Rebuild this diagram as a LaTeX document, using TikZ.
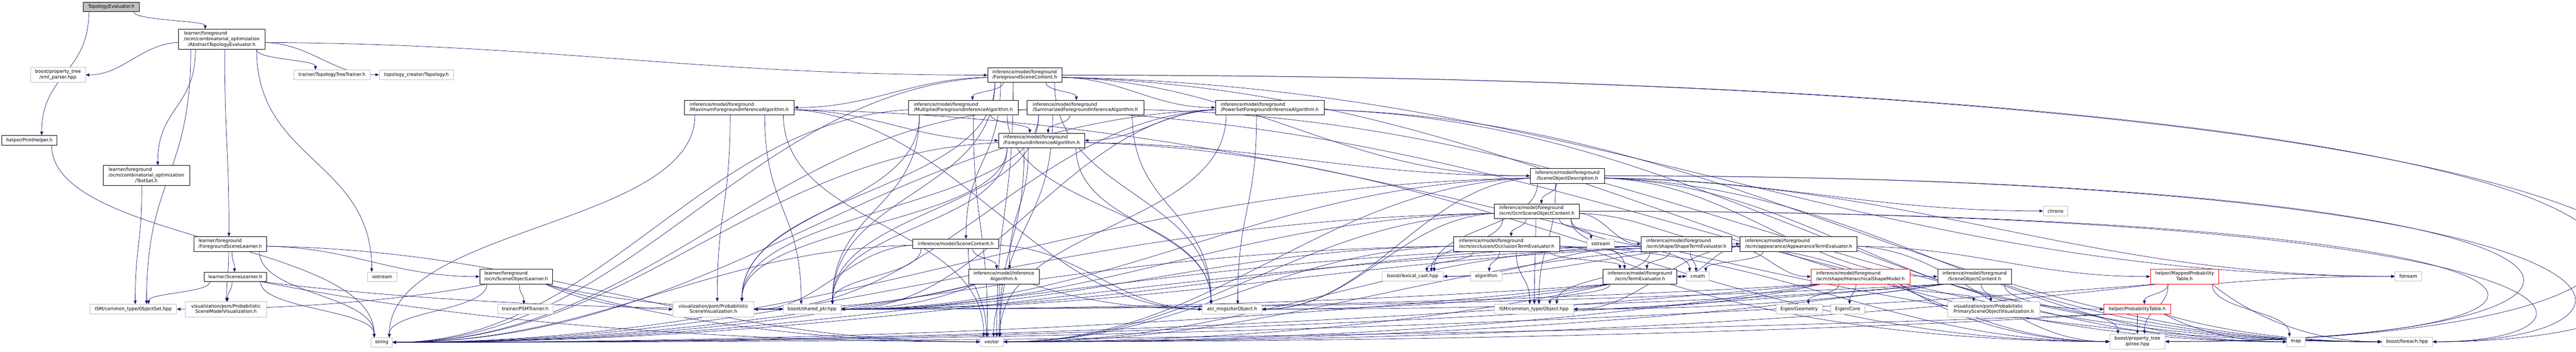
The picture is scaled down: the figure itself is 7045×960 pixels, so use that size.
\documentclass[tikz,border=0pt]{standalone}
\usepackage{fontspec}
\setmainfont{DejaVu Sans}
\usetikzlibrary{arrows.meta}
\pgfdeclarelayer{bg}
\pgfsetlayers{bg,main}
\definecolor{edgec}{HTML}{191970}
\definecolor{extc}{HTML}{BFBFBF}
\newcommand\LL[2]{\begin{tabular}{@{}l@{}}#1\\\multicolumn{1}{@{}c@{}}{#2}\end{tabular}}
\newcommand\LLL[3]{\begin{tabular}{@{}l@{}}#1\\#2\\\multicolumn{1}{@{}c@{}}{#3}\end{tabular}}
\newdimen\eXs \newdimen\eYs \newdimen\eXt \newdimen\eYt
\newdimen\eWs \newdimen\eHs \newdimen\eWt \newdimen\eHt
\newcommand\GETG[2]{%
 \pgfextractx{\eXs}{\pgfpointanchor{#1}{center}}%
 \pgfextracty{\eYs}{\pgfpointanchor{#1}{center}}%
 \pgfextractx{\eXt}{\pgfpointanchor{#2}{center}}%
 \pgfextracty{\eYt}{\pgfpointanchor{#2}{center}}%
 \pgfextractx{\eWs}{\pgfpointanchor{#1}{east}}%
 \pgfextracty{\eHs}{\pgfpointanchor{#1}{north}}%
 \pgfextractx{\eWt}{\pgfpointanchor{#2}{east}}%
 \pgfextracty{\eHt}{\pgfpointanchor{#2}{north}}%
 \pgfmathsetmacro\ews{\eWs-\eXs}%
 \pgfmathsetmacro\ehs{\eHs-\eYs}%
 \pgfmathsetmacro\ewt{\eWt-\eXt}%
 \pgfmathsetmacro\eht{\eHt-\eYt}%
 \pgfmathsetmacro\edx{\eXt-\eXs}%
 \pgfmathsetmacro\edy{\eYs-\eYt}}
\newcommand\EDG[2]{%
 \GETG{#1}{#2}%
 \pgfmathtruncatemacro\evert{abs(\edx)<1.5*\edy+250}%
 \ifnum\evert=1
  \pgfmathsetmacro\esx{\eXs+max(-0.8*\ews,min(0.8*\ews,0.35*\edx))}%
  \pgfmathsetmacro\esy{\eYs-\ehs}%
  \pgfmathsetmacro\eex{\eXt+max(-0.7*\ewt,min(0.7*\ewt,-0.15*\edx))}%
  \pgfmathsetmacro\eey{\eYt+\eht}%
  \pgfmathsetmacro\eay{\esy-0.5*(\esy-\eey)}%
  \pgfmathsetmacro\eby{\eey+0.5*(\esy-\eey)}%
  \draw[e] (\esx pt,\esy pt) .. controls (\esx pt,\eay pt) and (\eex pt,\eby pt) .. (\eex pt,\eey pt);%
 \else
  \pgfmathsetmacro\eex{\edx>0 ? \eXt-\ewt : \eXt+\ewt}%
  \pgfmathsetmacro\eey{\eYt}%
  \pgfmathtruncatemacro\eupper{\eYs>-700}%
  \ifnum\eupper=1
   \pgfmathsetmacro\esx{\edx>0 ? \eXs+\ews : \eXs-\ews}%
   \pgfmathsetmacro\esy{\eYs-0.3*\ehs}%
   \pgfmathsetmacro\eax{\esx+0.4*(\eex-\esx)}%
   \pgfmathsetmacro\eay{\esy-0.05*(\esy-\eey)}%
  \else
   \pgfmathsetmacro\esx{\eXs+max(-0.8*\ews,min(0.8*\ews,0.35*\edx))}%
   \pgfmathsetmacro\esy{\eYs-\ehs}%
   \pgfmathsetmacro\eax{\esx+0.25*(\eex-\esx)}%
   \pgfmathsetmacro\eay{\esy-0.6*(\esy-\eey)}%
  \fi
  \pgfmathsetmacro\ebx{\eex-0.4*(\eex-\esx)}%
  \draw[e] (\esx pt,\esy pt) .. controls (\eax pt,\eay pt) and (\ebx pt,\eey pt) .. (\eex pt,\eey pt);%
 \fi}
% loop round the right margin: source, target, peak x
\newcommand\EDGL[3]{%
 \GETG{#1}{#2}%
 \pgfmathsetmacro\esx{\eXs+\ews}%
 \pgfmathsetmacro\eex{\eXt+\ewt}%
 \pgfmathsetmacro\eX{(#3-0.125*(\esx+\eex))/0.75}%
 \draw[e] (\esx pt,\eYs) .. controls (\eX pt,\eYs) and (\eX pt,\eYt) .. (\eex pt,\eYt);}
\newcommand\EDGS[2]{\foreach \tg in {#2} {\EDG{#1}{\tg}}}
\begin{document}
\begin{tikzpicture}[x=1pt,y=-1pt,
 box/.style={rectangle, inner sep=0pt, fill=white, font=\fontsize{12.6}{15}\selectfont, line width=1pt},
 doc/.style={box, draw=black},
 ext/.style={box, draw=extc},
 trunc/.style={box, draw=red},
 root/.style={box, draw=black, fill=extc},
 e/.style={draw=edgec, line width=1pt, -{Triangle[length=10pt,width=8pt]}}]
\useasboundingbox (0,0) rectangle (7045,960);
% nodes
\node[root, minimum width=153pt, minimum height=26pt] (TE) at (304.5,19) {TopologyEvaluator.h};
\node[doc, minimum width=237pt, minimum height=55pt] (ATE) at (606.5,107.5) {\LLL{learner/foreground}{/ocm/combinatorial\_optimization}{/AbstractTopologyEvaluator.h}};
\node[ext, minimum width=151pt, minimum height=41pt] (XML) at (158.5,204.5) {\LL{boost/property\_tree}{/xml\_parser.hpp}};
\node[ext, minimum width=208pt, minimum height=26pt] (TTT) at (908,204) {trainer/TopologyTreeTrainer.h};
\node[ext, minimum width=204pt, minimum height=26pt] (TC) at (1139,204) {topology\_creator/Topology.h};
\node[doc, minimum width=151pt, minimum height=26pt] (PH) at (80.5,383) {helper/PrintHelper.h};
\node[doc, minimum width=237pt, minimum height=55pt] (TS) at (400.5,479.5) {\LLL{learner/foreground}{/ocm/combinatorial\_optimization}{/TestSet.h}};
\node[doc, minimum width=199pt, minimum height=40pt] (FSL) at (629.5,666) {\LL{learner/foreground}{/ForegroundSceneLearner.h}};
\node[doc, minimum width=171pt, minimum height=25pt] (SL) at (643.5,755.5) {learner/SceneLearner.h};
\node[ext, minimum width=80pt, minimum height=25pt] (IOS) at (1045,755.5) {iostream};
\node[ext, minimum width=237pt, minimum height=26pt] (OS) at (364.5,844) {ISM/common\_type/ObjectSet.hpp};
\node[ext, minimum width=222pt, minimum height=41pt] (PSMV) at (618,844.5) {\LL{visualization/psm/Probabilistic}{SceneModelVisualization.h}};
\node[ext, minimum width=58pt, minimum height=25pt] (STR) at (1044,934.5) {string};
\node[doc, minimum width=301pt, minimum height=39pt] (MFIA) at (2021.5,293.5) {\LL{inference/model/foreground}{/MaximumForegroundInferenceAlgorithm.h}};
\node[doc, minimum width=199pt, minimum height=40pt] (SOL) at (1411.5,755) {\LL{learner/foreground}{/ocm/SceneObjectLearner.h}};
\node[ext, minimum width=151pt, minimum height=26pt] (PSMT) at (1436.5,844) {trainer/PSMTrainer.h};
\node[ext, minimum width=222pt, minimum height=41pt] (PSV) at (1951,844.5) {\LL{visualization/psm/Probabilistic}{SceneVisualization.h}};
\node[ext, minimum width=158pt, minimum height=26pt] (SP) at (2221,844) {boost/shared\_ptr.hpp};
\node[doc, minimum width=203pt, minimum height=40pt] (FSC) at (2802.5,205) {\LL{inference/model/foreground}{/ForegroundSceneContent.h}};
\node[doc, minimum width=299pt, minimum height=39pt] (MuFIA) at (2634.5,293.5) {\LL{inference/model/foreground}{/MultipliedForegroundInferenceAlgorithm.h}};
\node[doc, minimum width=319pt, minimum height=39pt] (SuFIA) at (2968.5,293.5) {\LL{inference/model/foreground}{/SummarizedForegroundInferenceAlgorithm.h}};
\node[doc, minimum width=297pt, minimum height=39pt] (PSFIA) at (3472.5,293.5) {\LL{inference/model/foreground}{/PowerSetForegroundInferenceAlgorithm.h}};
\node[doc, minimum width=235pt, minimum height=39pt] (FIA) at (2848.5,383.5) {\LL{inference/model/foreground}{/ForegroundInferenceAlgorithm.h}};
\node[doc, minimum width=235pt, minimum height=25pt] (SC) at (2613.5,665.5) {inference/model/SceneContent.h};
\node[doc, minimum width=193pt, minimum height=40pt] (IA) at (2745.5,755) {\LL{inference/model/Inference}{Algorithm.h}};
\node[ext, minimum width=163pt, minimum height=26pt] (ASR) at (3369.5,844) {asr\_msgs/AsrObject.h};
\node[ext, minimum width=63pt, minimum height=26pt] (VEC) at (2712.5,933) {vector};
\node[doc, minimum width=203pt, minimum height=40pt] (SOD) at (4286.5,480) {\LL{inference/model/foreground}{/SceneObjectDescription.h}};
\node[doc, minimum width=232pt, minimum height=39pt] (OSOC) at (4203,576.5) {\LL{inference/model/foreground}{/ocm/OcmSceneObjectContent.h}};
\node[doc, minimum width=291pt, minimum height=40pt] (OTE) at (4120.5,666) {\LL{inference/model/foreground}{/ocm/occlusion/OcclusionTermEvaluator.h}};
\node[ext, minimum width=75pt, minimum height=25pt] (SS) at (4377.5,665.5) {sstream};
\node[doc, minimum width=248pt, minimum height=40pt] (STE) at (4612,666) {\LL{inference/model/foreground}{/ocm/shape/ShapeTermEvaluator.h}};
\node[doc, minimum width=320pt, minimum height=40pt] (ATEv) at (4919,666) {\LL{inference/model/foreground}{/ocm/appearance/AppearanceTermEvaluator.h}};
\node[ext, minimum width=167pt, minimum height=25pt] (LC) at (3863.5,754.5) {boost/lexical\_cast.hpp};
\node[ext, minimum width=85pt, minimum height=25pt] (ALG) at (4064.5,754.5) {algorithm};
\node[doc, minimum width=202pt, minimum height=40pt] (TEv) at (4485,755) {\LL{inference/model/foreground}{/ocm/TermEvaluator.h}};
\node[ext, minimum width=62pt, minimum height=25pt] (CM) at (4643,754.5) {cmath};
\node[ext, minimum width=216pt, minimum height=26pt] (OBJ) at (4195,844) {ISM/common\_type/Object.hpp};
\node[ext, minimum width=67pt, minimum height=26pt] (CHR) at (5621.5,576) {chrono};
\node[trunc, minimum width=270pt, minimum height=40pt] (HSM) at (5088,755) {\LL{inference/model/foreground}{/ocm/shape/HierarchicalShapeModel.h}};
\node[doc, minimum width=202pt, minimum height=40pt] (SOC) at (5400,755) {\LL{inference/model/foreground}{/SceneObjectContent.h}};
\node[ext, minimum width=127pt, minimum height=26pt] (EG) at (4920.5,844) {Eigen/Geometry};
\node[ext, minimum width=92pt, minimum height=26pt] (EC) at (5053,844) {Eigen/Core};
\node[ext, minimum width=251pt, minimum height=41pt] (PPSOV) at (5452.5,844.5) {\LL{visualization/psm/Probabilistic}{PrimarySceneObjectVisualization.h}};
\node[trunc, minimum width=182pt, minimum height=26pt] (PT) at (5845,844) {helper/ProbabilityTable.h};
\node[ext, minimum width=151pt, minimum height=41pt] (PTREE) at (5845.5,932.5) {\LL{boost/property\_tree}{/ptree.hpp}};
\node[trunc, minimum width=187pt, minimum height=40pt] (MPT) at (5974.5,755) {\LL{helper/MappedProbability}{Table.h}};
\node[ext, minimum width=73pt, minimum height=25pt] (FS) at (6586.5,754.5) {fstream};
\node[ext, minimum width=50pt, minimum height=26pt] (MAP) at (6279,933) {map};
\node[ext, minimum width=138pt, minimum height=26pt] (BF) at (6583,933) {boost/foreach.hpp};
% edges
\begin{pgfonlayer}{bg}
\EDGS{TE}{ATE,PH}
\EDGS{PH}{STR}
\EDGS{ATE}{XML,TTT,TC,TS,FSL,OS,IOS,FSC}
\EDGS{TS}{OS}
\EDGS{FSL}{SL,STR,PSMV,SOL,VEC}
\EDGS{SL}{OS,PSMV,STR,SP,VEC}
\EDGS{SOL}{PSMT,OS,STR,SP,PSV,VEC}
\EDGS{MFIA}{FIA,STR,VEC,PSV,SP,ASR,BF}
\EDGS{MuFIA}{FIA,STR,VEC,PSV,SP,ASR,BF}
\EDGS{SuFIA}{FIA,STR,VEC,PSV,SP,ASR,BF}
\EDGS{PSFIA}{FIA,STR,VEC,PSV,SP,ASR,BF,MAP}
\EDGS{FIA}{IA,SOD,STR,VEC,PSV,SP,ASR,PTREE}
\EDGS{IA}{STR,VEC,PSV,SP,ASR}
\EDGS{SC}{IA,STR,VEC,PSV,SP,ASR}
\EDGS{FSC}{MFIA,MuFIA,SuFIA,PSFIA,SC,SOD,STR,VEC,PSV,SP,ASR,MAP,FS}
\EDGS{SOD}{OSOC,SOC,LC,OBJ,STR,VEC,SP,ASR,MAP,FS,CHR,PT}
\EDGS{OSOC}{OTE,STE,ATEv,TEv,SS,LC,OBJ,STR,VEC,SP,ASR,CM}
\EDGL{FSC}{BF}{7035}
\EDGL{FSC}{PTREE}{6985}
\EDGL{SOD}{BF}{6900}
\EDGL{SOD}{PTREE}{6850}
\EDGL{OSOC}{BF}{6770}
\EDGL{OSOC}{PTREE}{6745}
\EDGS{OTE}{TEv,LC,ALG,OBJ,CM,STR,VEC,SP,PTREE}
\EDGS{STE}{TEv,HSM,CM,LC,OBJ,STR,VEC,SP,PTREE}
\EDGS{ATEv}{TEv,MPT,LC,OBJ,STR,VEC,SP,PTREE,CM}
\EDGS{TEv}{OBJ,STR,VEC,SP,PTREE,ASR}
\EDGS{HSM}{EG,EC,PPSOV,PTREE,OBJ,STR,VEC,SP}
\EDGS{SOC}{PPSOV,PTREE,OBJ,STR,VEC,SP,ASR,BF}
\EDGS{MPT}{PT,PTREE,MAP,FS,STR,VEC,BF}
\EDGS{PT}{PTREE,MAP,BF,STR,VEC}
\end{pgfonlayer}
\end{tikzpicture}
\end{document}
